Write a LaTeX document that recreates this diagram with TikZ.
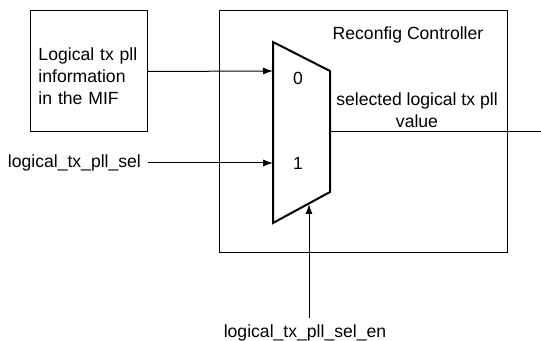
\documentclass[tikz,border=0pt]{standalone}
\usepackage{fontspec}
\setmainfont{Liberation Sans}
\usetikzlibrary{arrows.meta}

\begin{document}
\begin{tikzpicture}[x=0.5pt,y=-0.5pt,>={Latex[length=5pt,width=3.5pt]},
  every node/.style={font=\fontsize{8.8}{11}\selectfont},
  wire/.style={line width=0.5pt}]
\useasboundingbox (0,0) rectangle (541,341);
% MIF box
\node[draw, wire, minimum width=58.5pt, minimum height=60.5pt, text width=50pt, inner xsep=4.25pt, align=left] (mif) at (88.5,71.5) {\rule{0pt}{11.5pt}Logical tx pll\\information\\in the MIF};
% controller block
\draw[wire] (219,11) rectangle (507,253);
\node (ctrl) at (408,35) {Reconfig Controller};
% multiplexer
\draw[line width=1pt] (273,42) -- (330,71) -- (330,192) -- (273,223) -- cycle;
\coordinate (in0) at (273,71);
\coordinate (in1) at (273,163);
\coordinate (muxsel) at (309,204);
\coordinate (muxout) at (330,132);
\coordinate (out) at (541,132);
\node (lab0) at (298,78) {0};
\node (lab1) at (298,163) {1};
% signals
\node[anchor=east] (seltxt) at (148,163) {logical\_tx\_pll\_sel};
\node (entxt) at (305,333) {logical\_tx\_pll\_sel\_en};
\node[align=center] (outtxt) at (417,110) {selected logical tx pll\\value};
\draw[wire,->] (mif.east) -- (in0);
\draw[wire,->] (seltxt.east) -- (in1);
\draw[wire,->] (muxsel |- entxt.north) -- (muxsel);
\draw[wire] (muxout) -- (out);
\end{tikzpicture}
\end{document}
